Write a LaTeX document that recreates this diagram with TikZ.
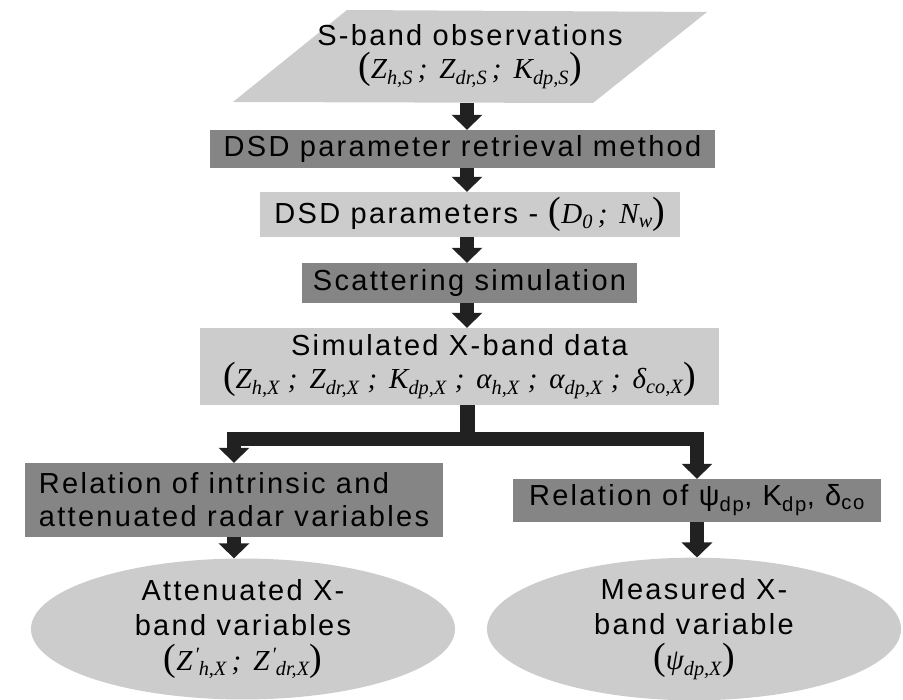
\documentclass[tikz,border=0pt]{standalone}
\usepackage{fontspec}
\setmainfont{Liberation Sans}[LetterSpace=8]
\newfontfamily\fmlfont{Liberation Serif}
\usetikzlibrary{arrows.meta,shapes.geometric}

\definecolor{boxdark}{gray}{0.52}
\definecolor{boxlight}{gray}{0.8}
\definecolor{arrowgray}{gray}{0.13}
\newcommand{\chartfont}{\fontsize{29}{33}\selectfont}
\newcommand{\fml}[1]{{\fmlfont\itshape{\upshape\fontsize{38}{33}\selectfont(}#1{\upshape\fontsize{38}{33}\selectfont)}}}
\newcommand{\fsub}[1]{\textsubscript{#1}}
\newcommand{\fsep}{\hspace{8pt};\hspace{12pt}}

\begin{document}
\begin{tikzpicture}[x=1pt, y=-1pt,
    darkstep/.style={fill=boxdark, inner sep=0pt, font=\chartfont},
    lightstep/.style={fill=boxlight, inner sep=0pt, font=\chartfont},
    result/.style={ellipse, fill=boxlight, inner sep=0pt, align=center, font=\chartfont},
    pipe/.style={draw=arrowgray, line width=14pt, line join=miter, -{Triangle[width=30pt,length=15pt]}},
    bar/.style={draw=arrowgray, line width=15pt}]
  \useasboundingbox (0,0) rectangle (903,700);

  % input
  \fill[boxlight] (347,10) -- (707,12) -- (593,103) -- (233,102) -- cycle;
  \node[align=center, font=\chartfont, minimum height=93pt, inner sep=0pt] (obs) at (470,56.5)
    {S-band observations\\ \fml{Z\fsub{h,S}\,; \,Z\fsub{dr,S}\,; \,K\fsub{dp,S}}};

  % steps
  \node[darkstep, minimum width=505pt, minimum height=38pt] (retr) at (462.5,149) {DSD parameter retrieval method};
  \node[lightstep, minimum width=420pt, minimum height=45pt] (par) at (470,214.5) {DSD parameters - \fml{D\fsub{0}\,; \,N\fsub{w}}};
  \node[darkstep, minimum width=335pt, minimum height=40pt] (scat) at (469.5,283) {Scattering simulation};
  \node[lightstep, align=center, minimum width=519pt, minimum height=77pt] (sim) at (459.5,366.5)
    {Simulated X-band data\\ \fml{Z\fsub{h,X}\fsep Z\fsub{dr,X}\fsep K\fsub{dp,X}\fsep α\fsub{h,X}\fsep α\fsub{dp,X}\fsep δ\fsub{co,X}}};
  \node[darkstep, align=left, minimum width=418pt, minimum height=74pt] (relA) at (234,500)
    {Relation of intrinsic and\\attenuated radar variables};
  \node[darkstep, minimum width=368pt, minimum height=43pt] (relB) at (697,500.5)
    {Relation of ψ\textsubscript{dp}, K\textsubscript{dp}, δ\textsubscript{co}};

  % outputs
  \node[result, minimum width=424pt, minimum height=140pt] (attA) at (243,629)
    {Attenuated X-\\[2pt]band variables\\[2pt] \fml{Z\textsuperscript{\upshape\,′}\kern-2pt\fsub{h,X}\,; \,Z\textsuperscript{\upshape\,′}\kern-2pt\fsub{dr,X}}};
  \node[result, minimum width=414pt, minimum height=140pt] (measB) at (694,629)
    {Measured X-\\[2pt]band variable\\[2pt] \fml{ψ\fsub{dp,X}}};

  \coordinate (spine) at (467,0);
  \coordinate (split) at (467,439);

  \draw[pipe] (obs.south -| spine) -- (retr.north -| spine);
  \draw[pipe] (retr.south -| spine) -- (par.north -| spine);
  \draw[pipe] (par.south -| spine) -- (scat.north -| spine);
  \draw[pipe] (scat.south -| spine) -- (sim.north -| spine);
  \draw[bar] (sim.south -| spine) -- (split);
  \draw[pipe] (split) -| (relA.north);
  \draw[pipe] (split) -| (relB.north);
  \draw[pipe] (relA.south) -- (relA.south |- attA.north);
  \draw[pipe] (relB.south) -- (relB.south |- measB.north);
\end{tikzpicture}
\end{document}
